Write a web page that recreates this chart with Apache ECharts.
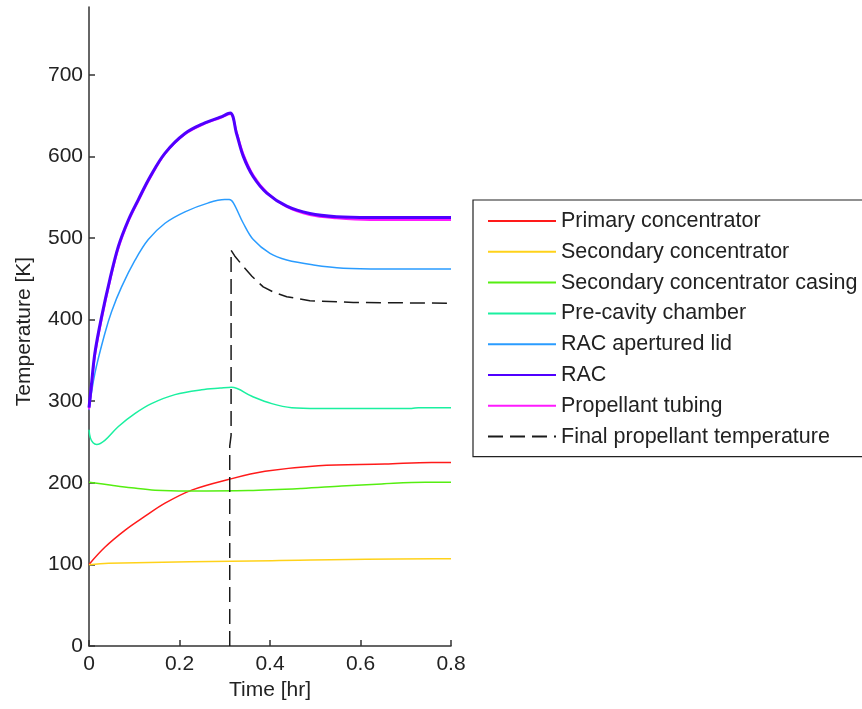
<!DOCTYPE html>
<html>
<head>
<meta charset="utf-8">
<script src="https://cdn.jsdelivr.net/npm/echarts@6/dist/echarts.min.js"></script>
<style>
html,body{margin:0;padding:0;background:#fff;}
#chart{width:862px;height:709px;}
</style>
</head>
<body>
<div id="chart"></div>
<script>
// ---- data ----
const seriesNames = ['Primary concentrator','Secondary concentrator','Secondary concentrator casing','Pre-cavity chamber','RAC apertured lid','RAC','Propellant tubing','Final propellant temperature'];

const xTicks = [0, 0.2, 0.4, 0.6, 0.8];
const yTicks = [0, 100, 200, 300, 400, 500, 600, 700];

const primaryT = [0, 0.035, 0.08, 0.124, 0.168, 0.227, 0.308, 0.389, 0.507, 0.654, 0.757, 0.8];
const primaryV = [100, 121, 142, 159, 175, 191, 204, 214, 221, 223, 225, 225];

const secondaryT = [0, 0.043, 0.404, 0.765, 0.8];
const secondaryV = [99.5, 101.3, 104.6, 106.8, 106.8];

const casingT = [0, 0.05, 0.094, 0.146, 0.219, 0.352, 0.47, 0.558, 0.647, 0.743, 0.8];
const casingV = [200.6, 197, 194, 191, 190, 190.5, 193, 196, 198.6, 200.6, 200.6];

const precavT = [0, 0.003, 0.009, 0.017, 0.035, 0.065, 0.102, 0.138, 0.19, 0.249, 0.29, 0.315, 0.36, 0.404, 0.448, 0.507, 0.713, 0.728, 0.8];
const precavV = [265, 255, 249, 247, 252, 269, 285, 297, 308, 314, 316, 317, 306, 297, 292, 291, 291, 292, 292];

const lidT = [0, 0.013, 0.035, 0.05, 0.072, 0.102, 0.131, 0.168, 0.212, 0.264, 0.300, 0.310, 0.319, 0.341, 0.363, 0.4, 0.437, 0.496, 0.562, 0.65, 0.8];
const lidV = [289, 334, 383, 410, 440, 473, 498, 518, 532, 543, 547, 547, 543, 518, 498, 481, 473, 467, 463, 462, 462];

const racT = [0, 0.005, 0.013, 0.028, 0.046, 0.065, 0.087, 0.109, 0.135, 0.168, 0.212, 0.256, 0.290, 0.312, 0.326, 0.341, 0.363, 0.393, 0.437, 0.488, 0.547, 0.621, 0.7, 0.8];
const racV = [292, 318, 359, 404, 449, 490, 522, 547, 575, 604, 628, 641, 648, 653, 628, 600, 575, 555, 539, 530, 526, 525, 525, 525];

const tubingT = [0, 0.005, 0.013, 0.028, 0.046, 0.065, 0.087, 0.109, 0.135, 0.168, 0.212, 0.256, 0.290, 0.312, 0.326, 0.341, 0.363, 0.393, 0.437, 0.488, 0.547, 0.621, 0.7, 0.8];
const tubingV = [290, 314, 355, 400, 446, 487, 520, 545, 573, 603, 627, 640, 647, 652, 630, 603, 577, 556, 538, 528, 524, 522, 522, 522];

const finalT = [0.311, 0.311, 0.314, 0.314, 0.322, 0.341, 0.36, 0.385, 0.41, 0.437, 0.488, 0.584, 0.8];
const finalV = [0, 245, 258, 485, 478, 465, 453, 440, 433, 428, 423, 421, 420];

// ---- build ----
function pairs(t, v){ return t.map((x,i)=>[x, v[i]]); }
const FONT = 'Liberation Sans';

const defs = [
  {t: primaryT, v: primaryV, color:'#ff1a1a', width:1.5, smooth:0.35},
  {t: secondaryT, v: secondaryV, color:'#ffd21a', width:1.5, smooth:0.35},
  {t: casingT, v: casingV, color:'#55ee11', width:1.5, smooth:0.35},
  {t: precavT, v: precavV, color:'#1af0a0', width:1.5, smooth:0.35},
  {t: lidT, v: lidV, color:'#2a9cff', width:1.5, smooth:0.35},
  {t: racT, v: racV, color:'#5000ff', width:3, smooth:0.35, z:4},
  {t: tubingT, v: tubingV, color:'#ff1aff', width:2, smooth:0.35, z:3},
  {t: finalT, v: finalV, color:'#1a1a1a', width:1.5, smooth:false, dash:[15,7]}
];

const series = defs.map((d,i)=>({
  name: seriesNames[i],
  type: 'line',
  data: pairs(d.t, d.v),
  symbol: 'none',
  showSymbol: false,
  smooth: d.smooth,
  z: d.z || 2,
  lineStyle: {color: d.color, width: d.width, type: d.dash || 'solid'},
  itemStyle: {color: d.color},
  emphasis: {disabled: true}
}));

const chart = echarts.init(document.getElementById('chart'), null, {renderer:'canvas'});
chart.setOption({
  animation: false,
  backgroundColor: '#fff',
  grid: {left: 89, top: 7, right: 411, bottom: 63, containLabel: false},
  xAxis: {
    type: 'value', min: 0, max: 0.8, interval: 0.2,
    name: 'Time [hr]', nameLocation: 'middle', nameGap: 32,
    nameTextStyle: {fontFamily: FONT, fontSize: 21, color: '#222'},
    axisLine: {show: true, lineStyle: {color: '#333', width: 1.5}},
    axisTick: {show: true, inside: true, length: 6, lineStyle: {color: '#333', width: 1.5}, customValues: xTicks},
    axisLabel: {fontFamily: FONT, fontSize: 21, color: '#222', margin: 8, customValues: xTicks,
      formatter: v => String(v)},
    splitLine: {show: false}
  },
  yAxis: {
    type: 'value', min: 0, max: 783,
    name: 'Temperature [K]', nameLocation: 'middle', nameGap: 54,
    nameTextStyle: {fontFamily: FONT, fontSize: 21, color: '#222', padding: [0, 10, 0, 0]},
    axisLine: {show: true, lineStyle: {color: '#333', width: 1.5}},
    axisTick: {show: true, inside: true, length: 6, lineStyle: {color: '#333', width: 1.5}, customValues: yTicks},
    axisLabel: {fontFamily: FONT, fontSize: 21, color: '#222', margin: 6, customValues: yTicks},
    splitLine: {show: false}
  },
  legend: {
    orient: 'vertical',
    left: 473, top: 200,
    padding: [9, 10, 8, 14],
    backgroundColor: '#fff',
    borderColor: '#222', borderWidth: 1.2,
    itemWidth: 68, itemHeight: 14, itemGap: 6.8,
    selectedMode: false,
    itemStyle: {opacity: 0},
    textStyle: {fontFamily: FONT, fontSize: 21.5, color: '#222', lineHeight: 24},
    data: seriesNames
  },
  series: series
});
</script>
</body>
</html>
